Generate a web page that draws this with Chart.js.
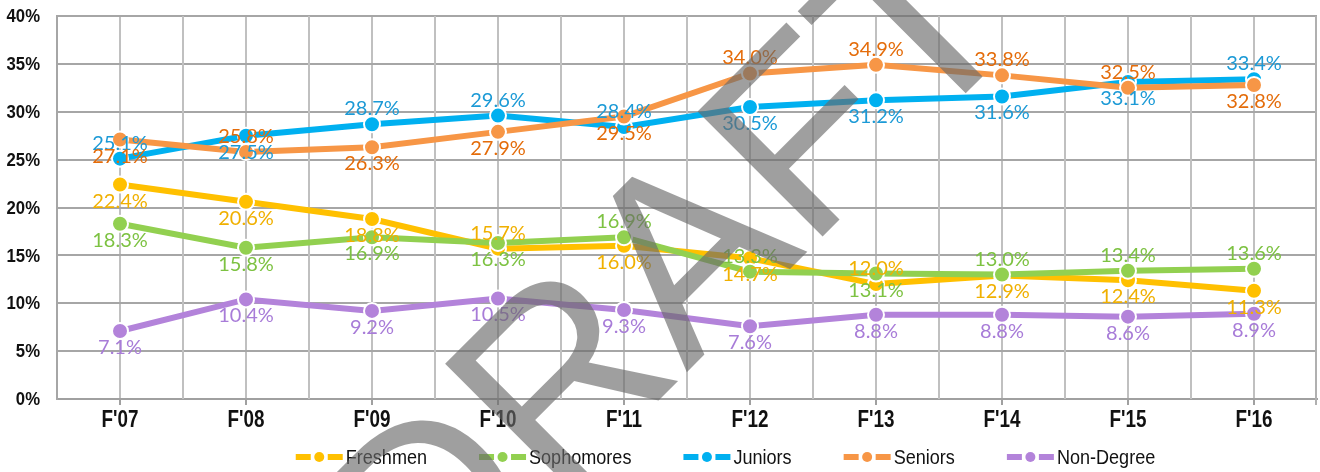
<!DOCTYPE html>
<html>
<head>
<meta charset="utf-8">
<script src="https://cdn.jsdelivr.net/npm/chart.js@4.4.0/dist/chart.umd.min.js"></script>
<style>
html,body{margin:0;padding:0;background:#fff;overflow:hidden;}
#wrap{width:1320px;height:472px;position:relative;overflow:hidden;}
canvas{display:block;}
</style>
</head>
<body>
<div id="wrap"><canvas id="c" width="1320" height="472"></canvas></div>
<script>
// ---- data ----
const categories = ["F'07","F'08","F'09","F'10","F'11","F'12","F'13","F'14","F'15","F'16"];
const seriesNames = ["Freshmen","Sophomores","Juniors","Seniors","Non-Degree"];
const freshmen   = [22.4, 20.6, 18.8, 15.7, 16.0, 14.7, 12.0, 12.9, 12.4, 11.3];
const sophomores = [18.3, 15.8, 16.9, 16.3, 16.9, 13.3, 13.1, 13.0, 13.4, 13.6];
const juniors    = [25.1, 27.5, 28.7, 29.6, 28.4, 30.5, 31.2, 31.6, 33.1, 33.4];
const seniors    = [27.1, 25.8, 26.3, 27.9, 29.5, 34.0, 34.9, 33.8, 32.5, 32.8];
const nonDegree  = [7.1, 10.4, 9.2, 10.5, 9.3, 7.6, 8.8, 8.8, 8.6, 8.9];
const yMin = 0, yMax = 40, yStep = 5;

// ---- label placement (a = above, b = below) ----
const freshmenSide   = ['b','b','b','a','b','b','a','b','b','b'];
const sophomoresSide = ['b','b','b','b','a','a','b','a','a','a'];
const juniorsSide    = ['a','b','a','a','a','b','b','b','b','a'];
const seniorsSide    = ['b','a','b','b','b','a','a','a','a','b'];
const nonDegreeSide  = ['b','b','b','b','b','b','b','b','b','b'];

// ---- styles ----
const lineColors  = ['#FFC000','#92D050','#00B0F0','#F79646','#B383DA'];
const labelColors = ['#F0B000','#7DC242','#1C9AD6','#E46C0A','#A87CD8'];
const SANS = '"Liberation Sans", Arial, sans-serif';

const allData = [freshmen, sophomores, juniors, seniors, nonDegree];
const allSides = [freshmenSide, sophomoresSide, juniorsSide, seniorsSide, nonDegreeSide];

const datasets = seriesNames.map((name, i) => ({
  label: name,
  data: allData[i],
  labelSide: allSides[i],
  labelColor: labelColors[i],
  borderColor: lineColors[i],
  backgroundColor: lineColors[i],
  borderWidth: 6,
  pointRadius: 8,
  pointBorderWidth: 2,
  pointBorderColor: '#FFFFFF',
  pointBackgroundColor: lineColors[i],
  pointStyle: 'circle',
  tension: 0,
  fill: false,
  order: seriesNames.length - i
}));

function narrowText(ctx, text, x, y, sx, align){
  ctx.save();
  ctx.translate(x, y);
  ctx.scale(sx, 1);
  ctx.textAlign = align;
  ctx.fillText(text, 0, 0);
  ctx.restore();
}

const boundaryGrid = {
  id: 'boundaryGrid',
  beforeDatasetsDraw(chart){
    const xs = chart.scales.x, a = chart.chartArea, ctx = chart.ctx;
    const half = (xs.getPixelForValue(1) - xs.getPixelForValue(0)) / 2;
    ctx.save();
    ctx.strokeStyle = '#C0C0C0'; ctx.lineWidth = 2;
    for (let i = 0; i < categories.length - 1; i++){
      const px = Math.round(xs.getPixelForValue(i) + half);
      ctx.beginPath(); ctx.moveTo(px, a.top); ctx.lineTo(px, a.bottom); ctx.stroke();
    }
    const rx = Math.round(xs.getPixelForValue(categories.length - 1) + half) - 1;
    ctx.strokeStyle = '#B0B0B0';
    ctx.beginPath(); ctx.moveTo(rx, a.top); ctx.lineTo(rx, a.bottom + 6); ctx.stroke();
    ctx.restore();
  }
};

const valueLabels = {
  id: 'valueLabels',
  afterDatasetsDraw(chart){
    const ctx = chart.ctx;
    ctx.save();
    ctx.font = '20px Lato, "Open Sans", sans-serif';
    ctx.textAlign = 'center';
    ctx.textBaseline = 'alphabetic';
    chart.data.datasets.forEach((ds, di) => {
      const meta = chart.getDatasetMeta(di);
      meta.data.forEach((pt, i) => {
        const dy = ds.labelSide[i] === 'a' ? -16 : 16;
        ctx.fillStyle = ds.labelColor;
        ctx.fillText(ds.data[i].toFixed(1) + '%', pt.x, pt.y + dy + 7);
      });
    });
    ctx.restore();
  }
};

const axisText = {
  id: 'axisText',
  afterDraw(chart){
    const ctx = chart.ctx, xs = chart.scales.x, ys = chart.scales.y, a = chart.chartArea;
    ctx.save();
    ctx.fillStyle = '#111';
    ctx.textBaseline = 'middle';
    ctx.font = 'bold 19px ' + SANS;
    ys.ticks.forEach(t => {
      narrowText(ctx, t.value + '%', a.left - 17, ys.getPixelForValue(t.value) + 1, 0.88, 'right');
    });
    ctx.font = 'bold 23px ' + SANS;
    categories.forEach((c, i) => {
      narrowText(ctx, c, xs.getPixelForValue(i), a.bottom + 22, 0.82, 'center');
    });
    // legend
    const sx = 0.86, iconW = 47, iconGap = 3, itemGap = 52;
    ctx.font = '21px ' + SANS;
    const items = chart.data.datasets.map(ds => ({ text: ds.label, color: ds.borderColor, w: ctx.measureText(ds.label).width * sx }));
    const total = items.reduce((s, it) => s + iconW + iconGap + it.w, 0) + itemGap * (items.length - 1);
    let x = 725.5 - total / 2;
    const ly = 457;
    items.forEach(it => {
      ctx.strokeStyle = it.color; ctx.fillStyle = it.color; ctx.lineWidth = 6; ctx.lineCap = 'butt';
      ctx.beginPath(); ctx.moveTo(x, ly); ctx.lineTo(x + 15, ly); ctx.stroke();
      ctx.beginPath(); ctx.moveTo(x + 32, ly); ctx.lineTo(x + 47, ly); ctx.stroke();
      ctx.beginPath(); ctx.arc(x + 23.5, ly, 5, 0, Math.PI * 2); ctx.fill();
      x += iconW + iconGap;
      ctx.fillStyle = '#111';
      narrowText(ctx, it.text, x, ly + 1, sx, 'left');
      x += it.w + itemGap;
    });
    ctx.restore();
  }
};

const watermark = {
  id: 'watermark',
  afterDraw(chart){
    const ctx = chart.ctx;
    ctx.save();
    ctx.translate(424, 635);
    ctx.rotate(-45 * Math.PI / 180);
    ctx.font = '257px ' + SANS;
    ctx.textBaseline = 'alphabetic';
    ctx.textAlign = 'left';
    ctx.fillStyle = 'rgba(105,105,105,0.64)';
    ctx.fillText('DRAFT', 0, 0);
    ctx.restore();
  }
};

new Chart(document.getElementById('c'), {
  type: 'line',
  data: { labels: categories, datasets },
  options: {
    responsive: false,
    animation: false,
    events: [],
    layout: { autoPadding: false, padding: { top: 16, right: 3, left: 0, bottom: 32 } },
    scales: {
      x: {
        offset: true,
        grid: { offset: false, color: '#C0C0C0', lineWidth: 2, drawTicks: true, tickLength: 6, tickColor: '#A0A0A0' },
        border: { display: true, color: '#A0A0A0', width: 2 },
        ticks: { display: false, autoSkip: false },
        afterFit(s){ s.height = 41; }
      },
      y: {
        min: yMin, max: yMax,
        grid: { color: '#A6A6A6', lineWidth: 2, drawTicks: false },
        border: { display: true, color: '#A6A6A6', width: 2 },
        ticks: { stepSize: yStep, display: false },
        afterFit(s){ s.width = 57; }
      }
    },
    plugins: {
      tooltip: { enabled: false },
      legend: { display: false }
    }
  },
  plugins: [boundaryGrid, valueLabels, axisText, watermark]
});
</script>
</body>
</html>
